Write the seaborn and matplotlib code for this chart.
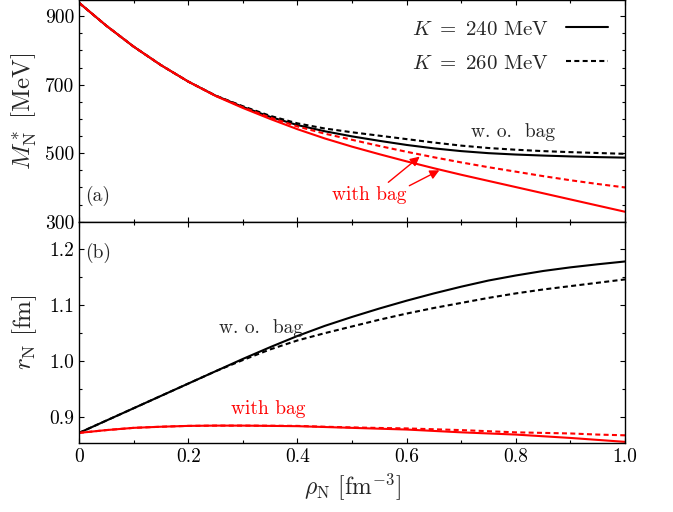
import numpy as np
import pandas as pd
import matplotlib
matplotlib.use("Agg")
import matplotlib.pyplot as plt
import seaborn as sns
from matplotlib.lines import Line2D
from matplotlib.ticker import MultipleLocator, FixedLocator, FuncFormatter

# ---------------- data ----------------
rho = [0.0, 0.05, 0.1, 0.15, 0.2, 0.25, 0.3, 0.35, 0.4, 0.45, 0.5,
       0.55, 0.6, 0.65, 0.7, 0.75, 0.8, 0.85, 0.9, 0.95, 1.0]

# effective nucleon mass M*_N [MeV]
mass_wo_240 = [939, 872, 811, 757, 709, 668, 635, 606, 582, 564, 549,
               536, 524, 514, 506, 500, 496, 493, 490.5, 488.5, 487]
mass_wo_260 = [939, 872, 811, 757, 709, 668, 637, 609, 587, 572, 561,
               551, 541, 531, 522, 515, 510, 506, 503, 500.5, 498]
mass_bag_240 = [939, 872, 811, 757, 709, 667, 632, 600, 570, 543, 519,
                497, 476, 456, 437, 419, 401, 383, 365, 347, 329]
mass_bag_260 = [939, 872, 811, 757, 709, 668, 634, 604, 578, 557, 539,
                521, 504, 488, 473, 459, 446, 433, 421, 410, 400]

# nucleon radius r_N [fm]
r_wo_240 = [0.871, 0.893, 0.915, 0.937, 0.959, 0.981, 1.003, 1.024, 1.044,
            1.062, 1.078, 1.093, 1.107, 1.120, 1.132, 1.143, 1.152, 1.160,
            1.1665, 1.172, 1.177]
r_wo_260 = [0.871, 0.893, 0.915, 0.937, 0.959, 0.981, 1.001, 1.020, 1.036,
            1.049, 1.061, 1.073, 1.084, 1.094, 1.103, 1.112, 1.120, 1.127,
            1.133, 1.139, 1.145]
r_bag_240 = [0.871, 0.876, 0.880, 0.882, 0.8835, 0.884, 0.884, 0.8835, 0.883,
             0.8815, 0.880, 0.8785, 0.877, 0.8745, 0.872, 0.870, 0.868, 0.865,
             0.862, 0.8585, 0.855]
r_bag_260 = [0.871, 0.876, 0.880, 0.882, 0.8835, 0.884, 0.884, 0.8838, 0.8835,
             0.882, 0.8808, 0.8798, 0.879, 0.8775, 0.876, 0.874, 0.872, 0.871,
             0.870, 0.868, 0.8667]

K_labels = ["240", "260"]
bag_labels = ["w.o. bag", "with bag"]
mass_ticks = [300, 500, 700, 900]


def long_frame(series):
    rows = []
    for (bag, K), vals in series.items():
        for x, v in zip(rho, vals):
            rows.append({"rho": x, "value": v, "bag": bag, "K": K})
    return pd.DataFrame(rows)


df_mass = long_frame({
    ("w.o. bag", "240"): mass_wo_240, ("w.o. bag", "260"): mass_wo_260,
    ("with bag", "240"): mass_bag_240, ("with bag", "260"): mass_bag_260,
})
df_r = long_frame({
    ("w.o. bag", "240"): r_wo_240, ("w.o. bag", "260"): r_wo_260,
    ("with bag", "240"): r_bag_240, ("with bag", "260"): r_bag_260,
})

# ---------------- style ----------------
sns.set_style("ticks")
plt.rcParams.update({
    "font.family": "serif",
    "font.serif": ["cmr10", "DejaVu Serif"],
    "mathtext.fontset": "cm",
    "axes.unicode_minus": False,
    "axes.formatter.use_mathtext": True,
    "xtick.direction": "in",
    "ytick.direction": "in",
    "xtick.top": True,
    "ytick.right": True,
    "axes.edgecolor": "black",
    "axes.linewidth": 1.0,
    "xtick.color": "black",
    "ytick.color": "black",
})

palette = {"w.o. bag": "black", "with bag": "#ff0000"}
dashes = {"240": "", "260": (2.4, 1.6)}

fig = plt.figure(figsize=(6.73, 5.12), dpi=100)
ax1 = fig.add_axes([0.1174, 0.567, 0.8113, 0.433])
ax2 = fig.add_axes([0.1174, 0.1348, 0.8113, 0.4322], sharex=ax1)

for ax, df in ((ax1, df_mass), (ax2, df_r)):
    sns.lineplot(data=df, x="rho", y="value", hue="bag", style="K",
                 palette=palette, dashes=dashes, hue_order=bag_labels,
                 style_order=K_labels, linewidth=1.5, legend=False,
                 sort=False, estimator=None, ax=ax)

# ---------------- axes ----------------
ax1.set_xlim(0, 1.0)
ax1.set_ylim(300, 947)
ax2.set_ylim(0.853, 1.248)

for ax in (ax1, ax2):
    ax.xaxis.set_major_locator(MultipleLocator(0.2))
    ax.xaxis.set_minor_locator(MultipleLocator(0.1))
    ax.tick_params(which="both", direction="in", top=True, right=True,
                   labelsize=14, width=0.8)
    ax.tick_params(which="major", length=3.5)
    ax.tick_params(which="minor", length=2.5)
    for s in ax.spines.values():
        s.set_visible(True)
        s.set_color("black")

ax1.yaxis.set_major_locator(FixedLocator(mass_ticks))
ax1.yaxis.set_minor_locator(MultipleLocator(50))
ax1.yaxis.set_major_formatter(FuncFormatter(lambda v, p: f"{int(round(v))}"))
ax1.tick_params(axis="x", labelbottom=False)

ax2.yaxis.set_major_locator(MultipleLocator(0.1))
ax2.yaxis.set_minor_locator(MultipleLocator(0.05))
ax2.yaxis.set_major_formatter(FuncFormatter(lambda v, p: f"{v:.1f}"))
ax2.xaxis.set_major_formatter(
    FuncFormatter(lambda v, p: "0" if abs(v) < 1e-9 else f"{v:.1f}"))

ax1.set_xlabel("")
ax1.set_ylabel(r"$M^*_{\rm N}$ [MeV]", fontsize=18)
ax2.set_ylabel(r"$r_{\rm N}$ [fm]", fontsize=18)
ax2.set_xlabel(r"$\rho_{\rm N}$ [fm$^{-3}$]", fontsize=17)
ax1.yaxis.set_label_coords(-0.073, 0.5)
ax2.yaxis.set_label_coords(-0.073, 0.5)

# ---------------- legend ----------------
handles = [Line2D([], [], color="black", lw=1.5, linestyle="-"),
           Line2D([], [], color="black", lw=1.5, dashes=dashes["260"])]
ax1.legend(handles, [r"$K\ =\ 240$ MeV", r"$K\ =\ 260$ MeV"],
           loc="upper right", bbox_to_anchor=(0.968, 0.91),
           frameon=False, markerfirst=False, fontsize=15,
           handlelength=2.0, handletextpad=0.8, labelspacing=0.75,
           borderaxespad=0, borderpad=0)

# ---------------- annotations ----------------
ax1.text(0.012, 0.114, "(a)", transform=ax1.transAxes, fontsize=14,
         ha="left", va="center")
ax2.text(0.012, 0.861, "(b)", transform=ax2.transAxes, fontsize=14,
         ha="left", va="center")

ax1.text(0.795, 562, r"w. o.  bag", fontsize=14, ha="center", va="center")
ax1.text(0.532, 377, "with bag", fontsize=14, ha="center", va="center",
         color="#ff0000")
arrow = dict(arrowstyle="-|>", color="#ff0000", lw=1.0, mutation_scale=14,
             shrinkA=0, shrinkB=0)
ax1.annotate("", xy=(0.624, 490), xytext=(0.5665, 415), arrowprops=arrow)
ax1.annotate("", xy=(0.66, 450), xytext=(0.605, 405), arrowprops=arrow)

ax2.text(0.333, 1.058, r"w. o.  bag", fontsize=14, ha="center", va="center")
ax2.text(0.347, 0.913, "with bag", fontsize=14, ha="center", va="center",
         color="#ff0000")

fig.savefig("out.png", dpi=100)
